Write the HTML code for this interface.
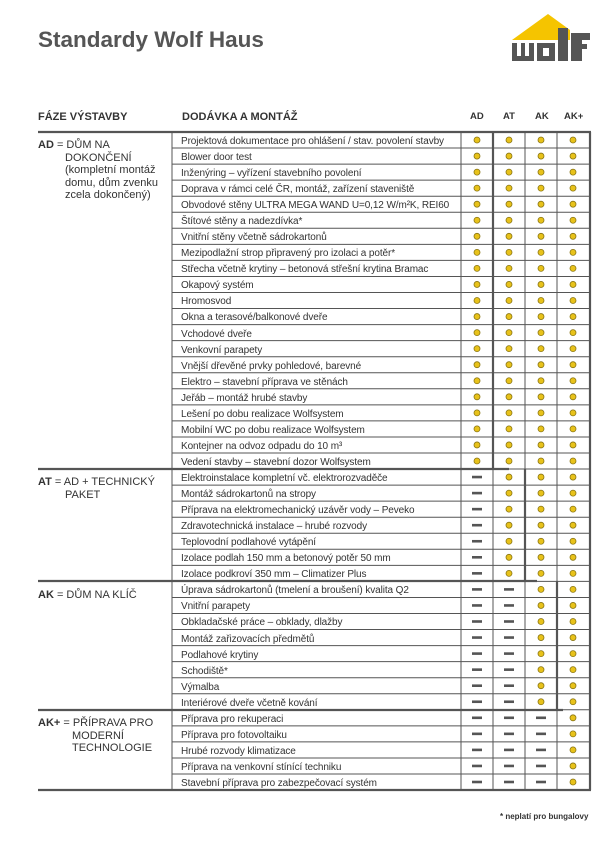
<!DOCTYPE html>
<html><head><meta charset="utf-8"><style>
body{margin:0;width:615px;height:844px;background:#fff;position:relative;overflow:hidden;font-family:"Liberation Sans",sans-serif;color:#333}
.a{position:absolute;white-space:nowrap}
.r{position:absolute;left:181px;font-size:10px;color:#333;line-height:16px;white-space:nowrap;letter-spacing:-0.1px;margin-top:1.5px}
.h{position:absolute;font-weight:bold;font-size:11px;color:#333;top:111px}
.l{position:absolute;left:38px;font-size:11px;line-height:12.5px;color:#333}
</style></head><body>
<div class="a" style="left:38px;top:27px;font-size:22.5px;font-weight:bold;color:#555">Standardy Wolf Haus</div>
<svg class="a" style="left:505px;top:8px" width="100" height="60" viewBox="505 8 100 60">
<polygon points="512,40 548,14 570,30 570,40" fill="#f5c400"/>
<rect x="512" y="43" width="22" height="18" fill="#555"/>
<rect x="517" y="43" width="4" height="13" fill="#fff"/><rect x="525" y="43" width="4" height="13" fill="#fff"/>
<rect x="537" y="43" width="18" height="18" fill="#555"/><rect x="543" y="48" width="6" height="8" fill="#fff"/>
<rect x="558" y="28" width="10" height="33" fill="#555"/>
<rect x="571" y="33" width="11" height="28" fill="#555"/><rect x="571" y="33" width="19" height="7" fill="#555"/><rect x="571" y="44" width="16" height="5" fill="#555"/>
</svg>
<div class="h" style="left:38px">FÁZE VÝSTAVBY</div>
<div class="h" style="left:182px">DODÁVKA A MONTÁŽ</div>
<div class="h" style="left:470px;font-size:9.5px">AD</div>
<div class="h" style="left:503px;font-size:9.5px">AT</div>
<div class="h" style="left:535px;font-size:9.5px">AK</div>
<div class="h" style="left:564px;font-size:9.5px">AK+</div>
<svg id="g" class="a" style="left:0;top:0" width="615" height="844"></svg>
<div class="l" style="top:139px"><b>AD</b> = DŮM NA<br><span style="padding-left:27px">DOKONČENÍ</span><br><span style="padding-left:27px">(kompletní montáž</span><br><span style="padding-left:27px">domu, dům zvenku</span><br><span style="padding-left:27px">zcela dokončený)</span></div>
<div class="l" style="top:476px"><b>AT</b> = AD + TECHNICKÝ<br><span style="padding-left:27px">PAKET</span></div>
<div class="l" style="top:589px"><b>AK</b> = DŮM NA KLÍČ</div>
<div class="l" style="top:717px"><b>AK+</b> = PŘÍPRAVA PRO<br><span style="padding-left:34px">MODERNÍ</span><br><span style="padding-left:34px">TECHNOLOGIE</span></div>
<div id="rows">
<div class="r" style="top:132px">Projektová dokumentace pro ohlášení / stav. povolení stavby</div>
<div class="r" style="top:148px">Blower door test</div>
<div class="r" style="top:164px">Inženýring – vyřízení stavebního povolení</div>
<div class="r" style="top:180px">Doprava v rámci celé ČR, montáž, zařízení staveniště</div>
<div class="r" style="top:196px">Obvodové stěny ULTRA MEGA WAND U=0,12 W/m²K, REI60</div>
<div class="r" style="top:212px">Štítové stěny a nadezdívka*</div>
<div class="r" style="top:228px">Vnitřní stěny včetně sádrokartonů</div>
<div class="r" style="top:244px">Mezipodlažní strop připravený pro izolaci a potěr*</div>
<div class="r" style="top:260px">Střecha včetně krytiny – betonová střešní krytina Bramac</div>
<div class="r" style="top:276px">Okapový systém</div>
<div class="r" style="top:292px">Hromosvod</div>
<div class="r" style="top:308px">Okna a terasové/balkonové dveře</div>
<div class="r" style="top:325px">Vchodové dveře</div>
<div class="r" style="top:341px">Venkovní parapety</div>
<div class="r" style="top:357px">Vnější dřevěné prvky pohledové, barevné</div>
<div class="r" style="top:373px">Elektro – stavební příprava ve stěnách</div>
<div class="r" style="top:389px">Jeřáb – montáž hrubé stavby</div>
<div class="r" style="top:405px">Lešení po dobu realizace Wolfsystem</div>
<div class="r" style="top:421px">Mobilní WC po dobu realizace Wolfsystem</div>
<div class="r" style="top:437px">Kontejner na odvoz odpadu do 10 m³</div>
<div class="r" style="top:453px">Vedení stavby – stavební dozor Wolfsystem</div>
<div class="r" style="top:469px">Elektroinstalace kompletní vč. elektrorozvaděče</div>
<div class="r" style="top:485px">Montáž sádrokartonů na stropy</div>
<div class="r" style="top:501px">Příprava na elektromechanický uzávěr vody – Peveko</div>
<div class="r" style="top:517px">Zdravotechnická instalace – hrubé rozvody</div>
<div class="r" style="top:533px">Teplovodní podlahové vytápění</div>
<div class="r" style="top:549px">Izolace podlah 150 mm a betonový potěr 50 mm</div>
<div class="r" style="top:565px">Izolace podkroví 350 mm – Climatizer Plus</div>
<div class="r" style="top:581px">Úprava sádrokartonů (tmelení a broušení) kvalita Q2</div>
<div class="r" style="top:597px">Vnitřní parapety</div>
<div class="r" style="top:613px">Obkladačské práce – obklady, dlažby</div>
<div class="r" style="top:630px">Montáž zařizovacích předmětů</div>
<div class="r" style="top:646px">Podlahové krytiny</div>
<div class="r" style="top:662px">Schodiště*</div>
<div class="r" style="top:678px">Výmalba</div>
<div class="r" style="top:694px">Interiérové dveře včetně kování</div>
<div class="r" style="top:710px">Příprava pro rekuperaci</div>
<div class="r" style="top:726px">Příprava pro fotovoltaiku</div>
<div class="r" style="top:742px">Hrubé rozvody klimatizace</div>
<div class="r" style="top:758px">Příprava na venkovní stínící techniku</div>
<div class="r" style="top:774px">Stavební příprava pro zabezpečovací systém</div>
</div>
<div class="a" style="left:500px;top:812px;font-size:8px;font-weight:bold;color:#333">* neplatí pro bungalovy</div>
<script>
var g=document.getElementById('g'),s='',H=16.05,T=132;
function y(i){return T+i*H;}
for(var i=1;i<41;i++)s+='<line x1="172" x2="590" y1="'+y(i)+'" y2="'+y(i)+'" stroke="#555" stroke-width="1"/>';
[172,461,493,525,557].forEach(function(x){s+='<line x1="'+x+'" x2="'+x+'" y1="132" y2="790" stroke="#555" stroke-width="1"/>';});
function tk(x1,y1,x2,y2){s+='<line x1="'+x1+'" y1="'+y1+'" x2="'+x2+'" y2="'+y2+'" stroke="#555" stroke-width="2.2"/>';}
tk(38,132,591,132);tk(38,469,509,469);tk(38,581,537,581);tk(38,710,563,710);tk(38,790,591,790);
tk(493,132,493,469);tk(525,469,525,581);tk(557,581,557,710);tk(590,132,590,790);
var cx=[477,509,541,573];
for(var i=0;i<41;i++){var n=i<21?0:i<28?1:i<36?2:3,cy=y(i)+8;
for(var c=0;c<4;c++){if(c<n)s+='<rect x="'+(cx[c]-5)+'" y="'+(cy-1.3)+'" width="10" height="2.6" fill="#555"/>';
else s+='<circle cx="'+cx[c]+'" cy="'+cy+'" r="3" fill="#e8c21a" stroke="#8a7614" stroke-width="0.8"/>';}}
g.innerHTML=s;
</script>
</body></html>
